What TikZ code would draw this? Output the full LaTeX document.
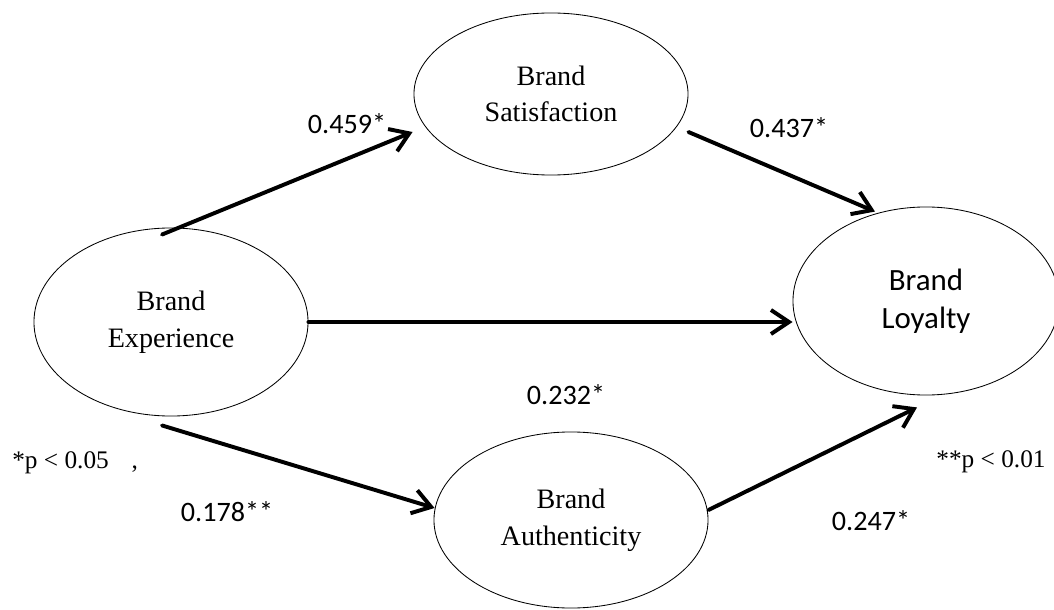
\documentclass[tikz,border=0pt]{standalone}
\usepackage{fontspec}
\setmainfont{Liberation Serif}
\newfontfamily\calfont{Carlito}
\usetikzlibrary{shapes.geometric,arrows.meta,calc}

\begin{document}
\begin{tikzpicture}[x=0.025cm,y=-0.025cm,
    latent/.style={draw,line width=0.6pt,ellipse,inner sep=0pt,align=center,
      font=\fontsize{20}{26}\selectfont},
    effect/.style={line width=2.8pt,line cap=round,
      -{Straight Barb[length=4.5mm,width=6mm,line width=2.8pt]}},
    coef/.style={font=\calfont\fontsize{20}{24}\selectfont},
    note/.style={font=\fontsize{18}{22}\selectfont}]
  \useasboundingbox (0,0) rectangle (1054,610);

  % Constructs
  \node[latent,minimum width=6.85cm,minimum height=4.7cm]
    (exp) at (171,322) {Brand\\Experience};
  \node[latent,minimum width=6.85cm,minimum height=4.05cm]
    (sat) at (551,94) {Brand\\Satisfaction};
  \node[latent,minimum width=6.85cm,minimum height=4.4cm]
    (auth) at (571,520) {Brand\\Authenticity};
  \node[latent,minimum width=6.65cm,minimum height=4.7cm,
    font=\calfont\fontsize{22}{27}\selectfont]
    (loy) at (926,301) {Brand\\Loyalty};

  % Paths
  \draw[effect] ($(exp.north)+(-9,7)$) -- ($(sat.west)+(-1,38)$);
  \draw[effect] (exp.east) -- (exp.east -| loy.west);
  \draw[effect] ($(exp.south)+(-9,9)$) -- ($(auth.west)+(1,-12)$);
  \draw[effect] ($(sat.east)+(0,38)$) -- ($(loy.north)+(-51,5)$);
  \draw[effect] ($(auth.east)+(0,-10)$) -- ($(loy.south)+(-9,12)$);

  % Path coefficients
  \node[coef] (c459) at (347,124) {0.459*};
  \node[coef] (c437) at (789,128) {0.437*};
  \node[coef] (c232) at (566,395) {0.232*};
  \node[coef] (c178) at (227,512) {0.178**};
  \node[coef] (c247) at (871,521) {0.247*};

  % Significance levels
  \node[note,anchor=west,inner sep=0pt] (p05) at (12,463) {*p < 0.05\hspace{0.9em},};
  \node[note] (p01) at (991,462) {**p < 0.01};
\end{tikzpicture}
\end{document}
